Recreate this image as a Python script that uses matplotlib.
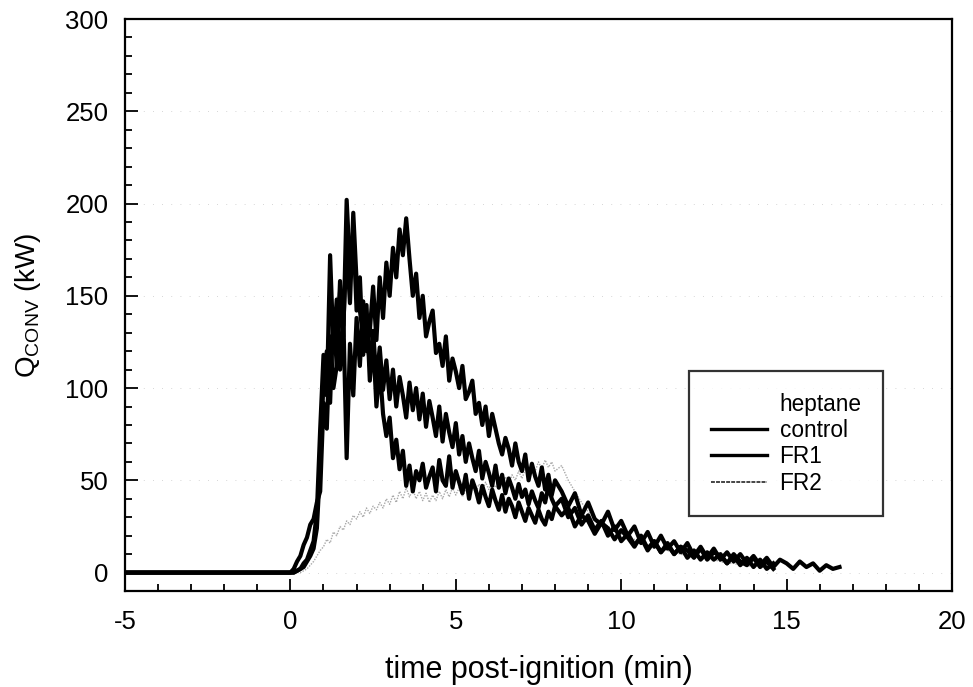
import matplotlib
matplotlib.use("Agg")
import matplotlib.pyplot as plt
from matplotlib.ticker import MultipleLocator
import numpy as np

plt.rcParams['font.family'] = ['Liberation Sans', 'DejaVu Sans']
plt.rcParams['mathtext.fontset'] = 'custom'
plt.rcParams['mathtext.rm'] = 'Liberation Sans'
plt.rcParams['axes.unicode_minus'] = False

# Data read off the scanned figure (kW). Sampled every 0.1 min from 0 to 8 min,
# then every 0.2 min from 8.2 min to the end of each record.
heptane_early = [
    0, 2, 6, 9, 15, 19, 26, 29, 38, 44,
    92, 78, 128, 100, 112, 152, 128, 202, 165, 186,
    142, 160, 118, 145, 104, 126, 90, 112, 86, 74,
    84, 62, 72, 56, 66, 47, 58, 44, 55, 50,
    59, 46, 52, 57, 44, 61, 50, 47, 63, 46,
    55, 49, 43, 53, 40, 50, 45, 38, 47, 41,
    36, 45, 39, 34, 42, 33, 40, 36, 30, 38,
    33, 28, 35, 31, 27, 34, 29, 26, 33, 29,
    36]
heptane_late = [
    31, 35, 25, 31, 28, 21, 27, 24, 18, 23,
    19, 14, 20, 13, 17, 11, 16, 10, 14, 12,
    8, 13, 7, 11, 9, 5, 10, 6, 4, 8,
    3, 6, 2]

control_early = [
    0, 0, 1, 2, 5, 7, 12, 17, 33, 78,
    118, 96, 172, 122, 148, 110, 138, 62, 124, 96,
    138, 112, 147, 120, 131, 155, 126, 160, 138, 168,
    150, 176, 160, 186, 172, 192, 170, 150, 162, 138,
    150, 128, 136, 142, 119, 124, 112, 128, 104, 116,
    109, 100, 112, 94, 98, 104, 86, 92, 80, 90,
    74, 86, 78, 70, 64, 73, 67, 58, 70, 60,
    55, 64, 50, 59, 52, 47, 57, 45, 53, 42,
    50]
control_late = [
    44, 36, 43, 31, 38, 29, 26, 33, 23, 28,
    20, 25, 16, 22, 14, 20, 13, 17, 11, 16,
    9, 14, 8, 13, 7, 11, 6, 10, 5, 9,
    4, 8, 3, 7, 5, 2, 6, 3, 5, 1,
    4, 2, 3]

fr1_early = [
    0, 0, 1, 2, 3, 6, 9, 13, 24, 58,
    104, 120, 92, 142, 112, 158, 134, 176, 146, 195,
    158, 142, 128, 136, 112, 131, 104, 122, 99, 115,
    94, 110, 90, 106, 96, 84, 103, 88, 100, 83,
    97, 79, 93, 84, 74, 90, 71, 86, 76, 68,
    81, 64, 74, 60, 70, 62, 55, 66, 51, 60,
    54, 47, 58, 46, 53, 43, 51, 46, 40, 48,
    41, 45, 37, 44, 39, 35, 43, 38, 47, 40,
    36]
fr1_late = [
    40, 30, 35, 26, 31, 23, 28, 20, 25, 17,
    21, 15, 19, 12, 17, 11, 15, 10, 14, 8,
    12, 7, 11, 7, 10, 5, 9, 4, 8, 3,
    7, 2, 5]

fr2_early = [
    0, 0, 0, 0, 1, 2, 4, 6, 9, 12,
    14, 18, 16, 22, 20, 25, 23, 28, 26, 31,
    29, 33, 30, 35, 32, 36, 34, 38, 35, 40,
    37, 42, 38, 44, 40, 46, 41, 45, 40, 44,
    39, 43, 38, 42, 39, 44, 40, 45, 41, 46,
    42, 46, 41, 45, 42, 47, 43, 48, 44, 49,
    45, 50, 46, 51, 47, 52, 48, 53, 50, 55,
    51, 56, 53, 58, 55, 60, 56, 61, 57, 60,
    55]
fr2_late = [
    58, 50, 44, 38, 33, 30, 27, 25, 23, 21,
    19, 18, 16, 15, 14, 13, 12, 11, 10, 9,
    9, 8, 7, 7, 6, 5, 5, 4, 4, 3]

labels = ['heptane', 'control', 'FR1', 'FR2']


def series(early, late):
    # flat baseline from -5 min, fine sampling, then coarse tail
    t = np.concatenate([[-5.0],
                        np.arange(len(early)) * 0.1,
                        8.2 + np.arange(len(late)) * 0.2])
    q = np.concatenate([[0.0], early, late])
    return t, q


fig = plt.figure(figsize=(9.73, 6.87), dpi=100)
ax = fig.add_axes([0.1285, 0.1397, 0.8499, 0.8326])

lw = 3.0
t, q = series(fr2_early, fr2_late)
ax.plot(t, q, color='#a8a8a8', linewidth=1.0, linestyle=(0, (1, 1)))
t, q = series(heptane_early, heptane_late)
ax.plot(t, q, color='black', linewidth=lw)
t, q = series(fr1_early, fr1_late)
ax.plot(t, q, color='black', linewidth=lw)
t, q = series(control_early, control_late)
ax.plot(t, q, color='black', linewidth=lw)

ax.set_xlim(-5, 20)
ax.set_ylim(-10, 300)
ax.xaxis.set_major_locator(MultipleLocator(5))
ax.xaxis.set_minor_locator(MultipleLocator(1))
ax.yaxis.set_major_locator(MultipleLocator(50))
ax.yaxis.set_minor_locator(MultipleLocator(10))
ax.tick_params(which='both', direction='in', top=False, right=False,
               labelsize=18.5, width=1.3)
ax.tick_params(which='major', length=9)
ax.tick_params(which='minor', length=5)
ax.tick_params(axis='y', which='major', pad=12)
ax.tick_params(axis='x', which='major', pad=14)
for s in ax.spines.values():
    s.set_linewidth(1.6)

ax.grid(True, axis='y', which='major', color='#c8c8c8', linestyle=(0, (1, 10)), linewidth=0.6)

ax.set_xlabel('time post-ignition (min)', fontsize=22, labelpad=15)
ax.set_ylabel('Q$_\\mathregular{CONV}$ (kW)', fontsize=20, labelpad=16)

# legend lines: heptane entry has no visible line in the scan
h_hep = plt.Line2D([], [], color='white', linewidth=0)
h_ctl = plt.Line2D([], [], color='black', linewidth=2.4)
h_fr1 = plt.Line2D([], [], color='black', linewidth=2.4)
h_fr2 = plt.Line2D([], [], color='#444444', linewidth=1.4, linestyle=(0, (2, 0.6)))
leg = ax.legend([h_hep, h_ctl, h_fr1, h_fr2], labels,
                loc='upper left', bbox_to_anchor=(0.682, 0.3846), borderaxespad=0,
                fontsize=16.3, frameon=True, fancybox=False, edgecolor='black',
                handlelength=2.5, handletextpad=0.55, labelspacing=0.15,
                borderpad=0.95)
leg.get_frame().set_linewidth(1.6)

fig.savefig('out.png', dpi=100)
